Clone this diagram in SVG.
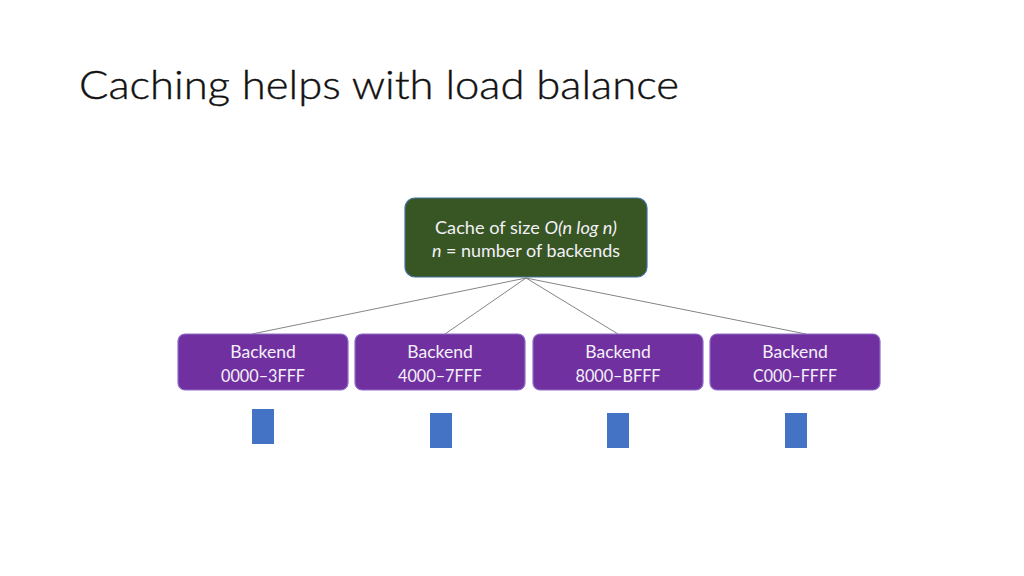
<svg xmlns="http://www.w3.org/2000/svg" width="1024" height="576" viewBox="0 0 1024 576">
<style>
.title{font-family:Lato,"Open Sans","Liberation Sans",sans-serif;font-weight:300;font-size:40px;fill:#111}
.t{font-family:Lato,"Open Sans","Liberation Sans",sans-serif;font-size:17.5px;fill:#f4f0f8;text-anchor:middle}
.c{font-size:17.5px}
.be{fill:#7030A0;stroke:#8f6cc8;stroke-width:1.2}
.blk{fill:#4472C4}
.conn line{stroke:#777;stroke-width:0.9}
</style>
<rect width="1024" height="576" fill="#fff"/>
<text class="title" x="79" y="99" textLength="600" lengthAdjust="spacingAndGlyphs" stroke="#111" stroke-width="0.4">Caching helps with load balance</text>
<g class="conn" id="connectors">
<line x1="526" y1="278" x2="252" y2="334"/>
<line x1="526" y1="278" x2="445" y2="334"/>
<line x1="526" y1="278" x2="618" y2="334"/>
<line x1="526" y1="278" x2="806" y2="334"/>
</g>
<g id="cache">
<rect x="405" y="198" width="242" height="79" rx="10" fill="#375623" stroke="#41719C" stroke-width="1.2"/>
<text class="t c" x="526" y="234" textLength="182" lengthAdjust="spacingAndGlyphs">Cache of size <tspan font-style="italic">O(n log n)</tspan></text>
<text class="t c" x="526" y="257" textLength="188" lengthAdjust="spacingAndGlyphs"><tspan font-style="italic">n</tspan> = number of backends</text>
</g>
<g id="backend1">
<rect class="be" x="178" y="334" width="170" height="56" rx="7"/>
<text class="t" x="263" y="358">Backend</text>
<text class="t" x="263" y="382" textLength="84" lengthAdjust="spacingAndGlyphs">0000–3FFF</text>
</g>
<g id="backend2">
<rect class="be" x="355" y="334" width="170" height="56" rx="7"/>
<text class="t" x="440" y="358">Backend</text>
<text class="t" x="440" y="382" textLength="84" lengthAdjust="spacingAndGlyphs">4000–7FFF</text>
</g>
<g id="backend3">
<rect class="be" x="533" y="334" width="170" height="56" rx="7"/>
<text class="t" x="618" y="358">Backend</text>
<text class="t" x="618" y="382" textLength="85" lengthAdjust="spacingAndGlyphs">8000–BFFF</text>
</g>
<g id="backend4">
<rect class="be" x="710" y="334" width="170" height="56" rx="7"/>
<text class="t" x="795" y="358">Backend</text>
<text class="t" x="795" y="382" textLength="84" lengthAdjust="spacingAndGlyphs">C000–FFFF</text>
</g>
<g id="loads">
<rect class="blk" x="252" y="409" width="22" height="35"/>
<rect class="blk" x="430" y="413" width="22" height="35"/>
<rect class="blk" x="607" y="413" width="22" height="35"/>
<rect class="blk" x="785" y="413" width="22" height="35"/>
</g>
</svg>
